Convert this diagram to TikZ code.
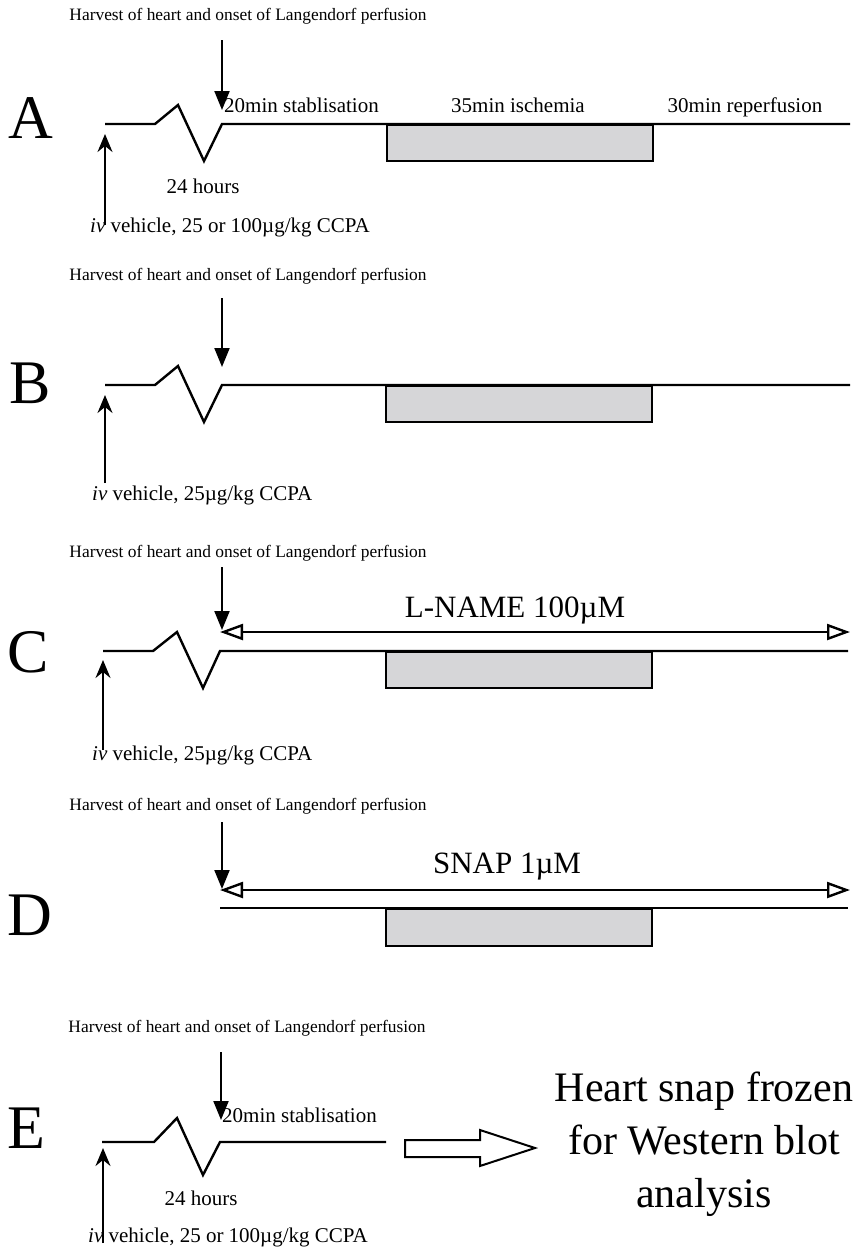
\documentclass[tikz,border=0pt]{standalone}
\usepackage{fontspec}
\setmainfont{Liberation Serif}
\usetikzlibrary{arrows.meta}
\begin{document}
\begin{tikzpicture}[x=1pt,y=-1pt,
  panelletter/.style={font=\fontsize{62}{62}\selectfont, inner sep=0pt, anchor=base},
  harvest/.style={font=\fontsize{17.4}{17.4}\selectfont, inner sep=0pt, anchor=base},
  lbl/.style={font=\fontsize{21}{21}\selectfont, inner sep=0pt, anchor=base},
  druglbl/.style={font=\fontsize{31}{31}\selectfont, inner sep=0pt, anchor=base},
  trace/.style={line width=2.4pt, line join=miter},
  downarrow/.style={line width=2pt, -{Triangle[length=19pt,width=15pt]}},
  uparrow/.style={line width=2pt, -{Stealth[length=18pt,width=15pt,inset=6pt]}},
  drugarrow/.style={line width=2pt,
    {Triangle[open,length=23pt,width=16pt,line width=2.4pt,fill=white]}-{Triangle[open,length=23pt,width=16pt,line width=2.4pt,fill=white]}},
  ischbox/.style={draw, line width=2pt, fill={rgb,255:red,214;green,214;blue,216},
    anchor=north west, minimum width=266pt, minimum height=36pt, inner sep=0pt},
  blockarrow/.style={draw, line width=2pt, line join=miter, fill=white}
]
\useasboundingbox (0,0) rectangle (860,1254);

% ---------------- Panel A ----------------
\node[panelletter] (A) at (31,138) {A};
\node[harvest] (A-harv) at (248,20) {Harvest of heart and onset of Langendorf perfusion};
\coordinate (A-dose) at (105,124);
\coordinate (A-onset) at (222,124);
\coordinate (A-end) at (850,124);
\node[ischbox] (A-isch) at (386,124) {};
\draw[trace] (A-dose) -- (155,124) -- (178,105) -- (204,161) -- (A-onset) -- (A-end);
\coordinate (A-hs) at (222,40);
\coordinate (A-ht) at (222,110);
\draw[downarrow] (A-hs) -- (A-ht);
\coordinate (A-ds) at (105,225);
\coordinate (A-dt) at (105,134);
\draw[uparrow] (A-ds) -- (A-dt);
\node[lbl, anchor=base west] (A-stab) at (224,112) {20min stablisation};
\node[lbl] (A-ischlbl) at (518,112) {35min ischemia};
\node[lbl] (A-rep) at (745,112) {30min reperfusion};
\node[lbl] (A-hours) at (203,193) {24 hours};
\node[lbl, anchor=base west] (A-iv) at (90,232) {\textit{iv} vehicle, 25 or 100µg/kg CCPA};

% ---------------- Panel B ----------------
\node[panelletter] (B) at (30,403) {B};
\node[harvest] (B-harv) at (248,280) {Harvest of heart and onset of Langendorf perfusion};
\coordinate (B-dose) at (105,385);
\coordinate (B-onset) at (222,385);
\coordinate (B-end) at (850,385);
\node[ischbox] (B-isch) at (385,385) {};
\draw[trace] (B-dose) -- (155,385) -- (178,366) -- (204,422) -- (B-onset) -- (B-end);
\coordinate (B-hs) at (222,298);
\coordinate (B-ht) at (222,367);
\draw[downarrow] (B-hs) -- (B-ht);
\coordinate (B-ds) at (105,483);
\coordinate (B-dt) at (105,395);
\draw[uparrow] (B-ds) -- (B-dt);
\node[lbl, anchor=base west] (B-iv) at (92,500) {\textit{iv} vehicle, 25µg/kg CCPA};

% ---------------- Panel C ----------------
\node[panelletter] (C) at (28,672) {C};
\node[harvest] (C-harv) at (248,557) {Harvest of heart and onset of Langendorf perfusion};
\coordinate (C-dose) at (103,651);
\coordinate (C-onset) at (220,651);
\coordinate (C-end) at (848,651);
\node[ischbox] (C-isch) at (385,651) {};
\draw[trace] (C-dose) -- (153,651) -- (177,632) -- (203,688) -- (C-onset) -- (C-end);
\coordinate (C-hs) at (222,567);
\coordinate (C-ht) at (222,630);
\draw[downarrow] (C-hs) -- (C-ht);
\coordinate (C-ls) at (220,632);
\coordinate (C-le) at (850,632);
\draw[drugarrow] (C-ls) -- (C-le);
\node[druglbl] (C-drug) at (515,617) {L-NAME 100µM};
\coordinate (C-ds) at (103,750);
\coordinate (C-dt) at (103,660);
\draw[uparrow] (C-ds) -- (C-dt);
\node[lbl, anchor=base west] (C-iv) at (92,760) {\textit{iv} vehicle, 25µg/kg CCPA};

% ---------------- Panel D ----------------
\node[panelletter] (D) at (30,935) {D};
\node[harvest] (D-harv) at (248,810) {Harvest of heart and onset of Langendorf perfusion};
\coordinate (D-onset) at (220,908);
\coordinate (D-end) at (848,908);
\node[ischbox, minimum height=37pt] (D-isch) at (385,908) {};
\draw[trace] (D-onset) -- (D-end);
\coordinate (D-hs) at (222,822);
\coordinate (D-ht) at (222,889);
\draw[downarrow] (D-hs) -- (D-ht);
\coordinate (D-ls) at (220,890);
\coordinate (D-le) at (850,890);
\draw[drugarrow] (D-ls) -- (D-le);
\node[druglbl] (D-drug) at (507,873) {SNAP 1µM};

% ---------------- Panel E ----------------
\node[panelletter] (E) at (26,1148) {E};
\node[harvest] (E-harv) at (247,1032) {Harvest of heart and onset of Langendorf perfusion};
\coordinate (E-dose) at (102,1142);
\coordinate (E-onset) at (220,1142);
\coordinate (E-end) at (386,1142);
\draw[trace] (E-dose) -- (154,1142) -- (177,1118) -- (203,1175) -- (E-onset) -- (E-end);
\coordinate (E-hs) at (221,1052);
\coordinate (E-ht) at (221,1120);
\draw[downarrow] (E-hs) -- (E-ht);
\coordinate (E-ds) at (103,1243);
\coordinate (E-dt) at (103,1148);
\draw[uparrow] (E-ds) -- (E-dt);
\node[lbl, anchor=base west] (E-stab) at (222,1122) {20min stablisation};
\node[lbl] (E-hours) at (201,1205) {24 hours};
\node[lbl, anchor=base west] (E-iv) at (88,1242) {\textit{iv} vehicle, 25 or 100µg/kg CCPA};
% hollow block arrow towards the outcome text
\draw[blockarrow] (405,1140) -- (480,1140) -- (480,1130) -- (535,1148)
  -- (480,1166) -- (480,1157) -- (405,1157) -- cycle;
\node[font=\fontsize{42}{53}\selectfont, align=center, inner sep=0pt, anchor=north]
  (E-out) at (704,1072) {Heart snap frozen\\for Western blot\\analysis};
\end{tikzpicture}
\end{document}
